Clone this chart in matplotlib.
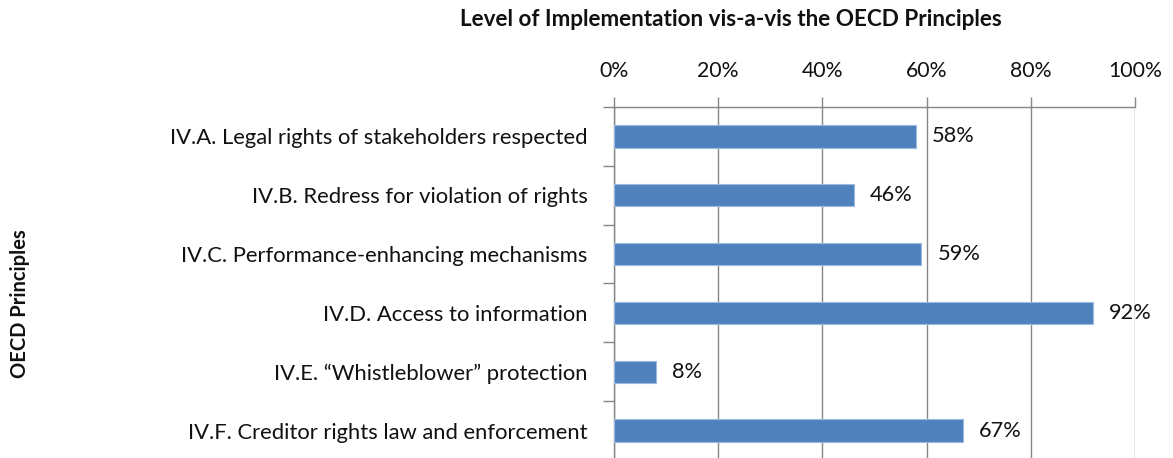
import matplotlib
matplotlib.use("Agg")
import matplotlib.pyplot as plt
from matplotlib.ticker import FixedLocator, PercentFormatter

categories = [
    "IV.A. Legal rights of stakeholders respected",
    "IV.B. Redress for violation of rights",
    "IV.C. Performance-enhancing mechanisms",
    "IV.D. Access to information",
    "IV.E. \u201cWhistleblower\u201d protection",
    "IV.F. Creditor rights law and enforcement",
]
values = [58, 46, 59, 92, 8, 67]
x_ticks = [0, 20, 40, 60, 80, 100]
title = "Level of Implementation vis-a-vis the OECD Principles"
ylabel = "OECD Principles"

plt.rcParams['font.family'] = ['Lato', 'DejaVu Sans']

W, H = 1173, 458
fig = plt.figure(figsize=(W / 100, H / 100), dpi=100)
left, right, top, bottom = 614, 1135, 107, 460
ax = fig.add_axes([left / W, 1 - bottom / H, (right - left) / W, (bottom - top) / H])

grid_c = "#868686"
pos = list(range(len(categories)))
ax.barh(pos, values, height=0.38, color="#4F81BD", edgecolor="#9DBBE0", linewidth=0.8, zorder=3)
for p, v in zip(pos, values):
    ax.annotate(f"{v}%", (v, p), xytext=(16, 0), textcoords="offset pixels",
                va="center", ha="left", fontsize=15.7, color="#111111")

ax.set_xlim(0, 100)
ax.set_ylim(len(categories) - 0.5, -0.5)
ax.xaxis.tick_top()
ax.set_xticks(x_ticks)
ax.xaxis.set_major_formatter(PercentFormatter(decimals=0))
ax.tick_params(axis='x', which='major', length=7, color=grid_c, width=1, pad=12,
               labelsize=15.3, labelcolor="#111111")
ax.grid(axis='x', color=grid_c, linewidth=1, zorder=0)

ax.set_yticks(pos)
ax.set_yticklabels(categories)
ax.tick_params(axis='y', which='major', length=0, pad=19, labelsize=15.8, labelcolor="#111111")
ax.yaxis.set_minor_locator(FixedLocator([p + 0.5 for p in range(-1, len(categories))]))
ax.tick_params(axis='y', which='minor', length=8, color=grid_c, width=1)

for s in ("right", "bottom"):
    ax.spines[s].set_visible(False)
for s in ("top", "left"):
    ax.spines[s].set_color(grid_c)
    ax.spines[s].set_linewidth(1)

fig.text(731 / W, 1 - 20 / H, title, ha="center", va="center", fontsize=16.2, fontweight="bold", color="#111111")
fig.text(20 / W, 1 - 304 / H, ylabel, ha="center", va="center", rotation=90, fontsize=14.5, fontweight="bold", color="#111111")

fig.savefig("out.png", dpi=100)
